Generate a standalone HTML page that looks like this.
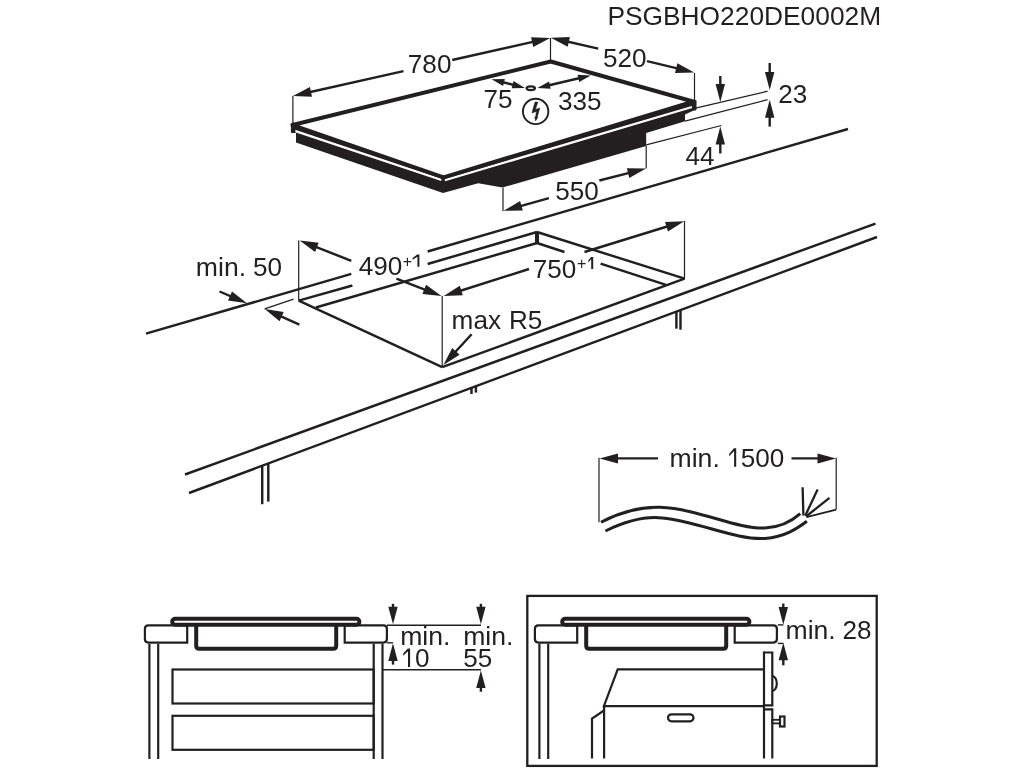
<!DOCTYPE html>
<html><head><meta charset="utf-8"><style>
html,body{margin:0;padding:0;background:#fff;}
svg{display:block;will-change:transform;}
text{font-family:"Liberation Sans",sans-serif;fill:#231f20;stroke:none;}
</style></head><body>
<svg width="1024" height="768" viewBox="0 0 1024 768" stroke="#231f20" fill="none" stroke-linecap="butt">
<rect width="1024" height="768" fill="#fff" stroke="none"/>
<polygon points="291.5,123 443.2,176 694.5,100 696.3,109.3 685,114.4 685,121.2 646.2,133 646.2,146 502.5,187.5 478.2,183.2 443,193 296,142.5 296,133 291.5,133" stroke-width="0" fill="#231f20"/>
<polyline points="294,130.6 443.5,180.6 692,107.0" stroke="#fff" stroke-width="2.2" fill="none"/>
<polygon points="292.5,125 550.7,61.5 693,101.5 443.5,177.3" stroke-width="3.9" fill="#fff" stroke-linejoin="round"/>
<rect x="290.9" y="122.8" width="4.5" height="10.2" rx="1.5" fill="#231f20" stroke="none"/>
<rect x="692.2" y="99.8" width="4.3" height="10.6" rx="1.5" fill="#231f20" stroke="none"/>
<rect x="441.3" y="176" width="3.6" height="10" fill="#231f20" stroke="none"/>
<line x1="292.9" y1="95.9" x2="292.9" y2="123" stroke-width="1.2"/>
<line x1="550.5" y1="38" x2="550.5" y2="61" stroke-width="1.2"/>
<line x1="694.5" y1="73" x2="694.5" y2="100" stroke-width="1.2"/>
<line x1="403.5" y1="71.2" x2="303.73" y2="93.48" stroke-width="2.4"/>
<polygon points="292.9,95.9 309.9,87.0 312.0,96.7" fill="#231f20" stroke="none"/>
<line x1="452.2" y1="60" x2="539.37" y2="40.43" stroke-width="2.4"/>
<polygon points="550.2,38.0 533.2,46.9 531.1,37.2" fill="#231f20" stroke="none"/>
<text transform="translate(407.86,73.4) scale(1,1.0)" font-size="26.1">780</text>
<line x1="598.2" y1="48.7" x2="561.62" y2="40.29" stroke-width="2.4"/>
<polygon points="550.8,37.8 569.9,37.1 567.7,46.8" fill="#231f20" stroke="none"/>
<line x1="647" y1="61.2" x2="683.41" y2="69.92" stroke-width="2.4"/>
<polygon points="694.2,72.5 675.0,73.1 677.4,63.3" fill="#231f20" stroke="none"/>
<text transform="translate(603.09,67.15) scale(1,1.0)" font-size="26.1">520</text>
<line x1="508" y1="83.5" x2="499.04" y2="81.21" stroke-width="2.4"/>
<polygon points="491.6,79.3 504.9,78.9 503.1,86.1" fill="#231f20" stroke="none"/>
<line x1="508" y1="83.5" x2="517.56" y2="85.98" stroke-width="2.4"/>
<polygon points="525.0,87.9 511.7,88.3 513.5,81.1" fill="#231f20" stroke="none"/>
<line x1="563" y1="82" x2="544.88" y2="86.25" stroke-width="2.4"/>
<polygon points="537.4,88.0 549.0,81.5 550.7,88.7" fill="#231f20" stroke="none"/>
<line x1="563" y1="82" x2="583.32" y2="77.25" stroke-width="2.4"/>
<polygon points="590.8,75.5 579.2,82.0 577.5,74.8" fill="#231f20" stroke="none"/>
<ellipse cx="530.8" cy="88.2" rx="4.1" ry="1.9" stroke-width="2.3" fill="none"/>
<text transform="translate(483.48,107.88) scale(1,1.0)" font-size="26.1">75</text>
<text transform="translate(557.9,109.9) scale(1,1.0)" font-size="26.1">335</text>
<circle cx="535.65" cy="111.45" r="12.7" stroke-width="1.9" fill="none"/>
<polygon points="535,102.1 537.9,102.1 535.4,109.4 539.8,108 537.4,116.7 538,117.1 535.6,120.9 534.7,117.1 535.6,116.8 536.4,111.4 531.9,112.9" fill="#231f20" stroke="#231f20" stroke-width="0.5" stroke-linejoin="round"/>
<line x1="694.5" y1="108.3" x2="767.6" y2="91.2" stroke-width="1.2"/>
<line x1="685" y1="121.2" x2="767.6" y2="99.7" stroke-width="1.2"/>
<line x1="720.3" y1="76" x2="720.3" y2="91.2" stroke-width="2.4"/>
<polygon points="720.3,102.0 715.6,84.0 725.0,84.0" fill="#231f20" stroke="none"/>
<line x1="769.7" y1="63" x2="769.7" y2="79.2" stroke-width="2.4"/>
<polygon points="769.7,90.0 765.0,72.0 774.4,72.0" fill="#231f20" stroke="none"/>
<line x1="769.7" y1="126.6" x2="769.7" y2="110.5" stroke-width="2.4"/>
<polygon points="769.7,99.7 774.4,117.7 765.0,117.7" fill="#231f20" stroke="none"/>
<text transform="translate(778.28,103.45) scale(1,1.0)" font-size="26.1">23</text>
<line x1="646.2" y1="144.9" x2="721.4" y2="125.5" stroke-width="1.2"/>
<line x1="720.3" y1="153.5" x2="720.3" y2="137.4" stroke-width="2.4"/>
<polygon points="720.3,126.6 725.0,144.6 715.6,144.6" fill="#231f20" stroke="none"/>
<text transform="translate(685.49,165.2) scale(1,1.0)" font-size="26.1">44</text>
<line x1="503" y1="187.7" x2="503" y2="211" stroke-width="1.2"/>
<line x1="646.2" y1="146" x2="646.2" y2="168.5" stroke-width="1.2"/>
<line x1="548.9" y1="198.1" x2="514.29" y2="207.8" stroke-width="2.4"/>
<polygon points="503.6,210.8 520.1,201.0 522.8,210.6" fill="#231f20" stroke="none"/>
<line x1="599.3" y1="180.5" x2="635.24" y2="171.34" stroke-width="2.4"/>
<polygon points="646.0,168.6 629.3,178.0 626.8,168.3" fill="#231f20" stroke="none"/>
<text transform="translate(555.34,199.53) scale(1,1.0)" font-size="26.1">550</text>
<text transform="translate(607.44,24.56) scale(1,1.0)" font-size="26.34">PSGBHO220DE0002M</text>
<line x1="146" y1="333.6" x2="351.3" y2="273.9" stroke-width="2.45"/>
<line x1="427.6" y1="251.5" x2="848" y2="129" stroke-width="2.45"/>
<line x1="298.7" y1="300.6" x2="352.4" y2="285.5" stroke-width="2.45"/>
<line x1="427.6" y1="264" x2="537" y2="232" stroke-width="2.45"/>
<line x1="315.9" y1="307.5" x2="537" y2="243" stroke-width="2.45"/>
<line x1="537" y1="232" x2="684.6" y2="278.7" stroke-width="2.45"/>
<line x1="537" y1="243" x2="564.5" y2="252" stroke-width="2.45"/>
<line x1="600.6" y1="263.7" x2="666" y2="284.9" stroke-width="2.45"/>
<line x1="537" y1="232" x2="537" y2="243" stroke-width="4"/>
<line x1="298.7" y1="300.6" x2="442.2" y2="367.2" stroke-width="2.45"/>
<line x1="442.2" y1="367.2" x2="684.6" y2="278.7" stroke-width="2.45"/>
<line x1="185" y1="474.5" x2="875.5" y2="223.6" stroke-width="2.45"/>
<line x1="189" y1="493" x2="877" y2="237" stroke-width="2.45"/>
<line x1="298.7" y1="240.4" x2="298.7" y2="300.6" stroke-width="1.2"/>
<line x1="442.2" y1="296" x2="442.2" y2="367.2" stroke-width="1.2"/>
<line x1="684.5" y1="221" x2="684.5" y2="278.7" stroke-width="1.2"/>
<line x1="351.3" y1="260.8" x2="310.04" y2="244.65" stroke-width="2.4"/>
<polygon points="299.7,240.6 318.7,242.7 315.1,252.0" fill="#231f20" stroke="none"/>
<line x1="396.4" y1="278.6" x2="431.15" y2="292.08" stroke-width="2.4"/>
<polygon points="441.5,296.1 422.4,294.1 426.1,284.7" fill="#231f20" stroke="none"/>
<text transform="translate(358.74,274.95) scale(1,1.0)" font-size="26.1">490</text>
<text transform="translate(402.7,266.5) scale(1,1.0)" font-size="16">+</text>
<polygon points="419.4,254.6 419.4,266.75 417.4,266.75 417.4,256.85 412.6,259.8 412.6,258.0 417.2,254.6" fill="#231f20" stroke="none"/>
<line x1="529" y1="269" x2="454.28" y2="292.74" stroke-width="2.4"/>
<polygon points="443.7,296.1 459.8,285.7 462.8,295.3" fill="#231f20" stroke="none"/>
<line x1="584.5" y1="252" x2="673.59" y2="224.48" stroke-width="2.4"/>
<polygon points="684.2,221.2 668.0,231.4 665.0,221.9" fill="#231f20" stroke="none"/>
<text transform="translate(532.66,277.75) scale(1,1.0)" font-size="26.1">750</text>
<text transform="translate(577,268.8) scale(1,1.0)" font-size="16">+</text>
<polygon points="593.2,257.1 593.2,269.1 591.2,269.1 591.2,259.35 588.3,262.40000000000003 588.3,260.6 591.0,257.1" fill="#231f20" stroke="none"/>
<text transform="translate(195.85,275.57) scale(1,0.95)" font-size="26.6">min.</text>
<text transform="translate(252.89,275.7) scale(1,1.0)" font-size="26.1">50</text>
<line x1="219.5" y1="291.5" x2="236.8" y2="298.92" stroke-width="2.4"/>
<polygon points="247.0,303.3 228.0,300.6 232.0,291.4" fill="#231f20" stroke="none"/>
<line x1="299.4" y1="324.7" x2="274.91" y2="313.59" stroke-width="2.4"/>
<polygon points="264.8,309.0 283.7,312.1 279.6,321.2" fill="#231f20" stroke="none"/>
<line x1="264.6" y1="308.9" x2="293.6" y2="299.1" stroke-width="1.2"/>
<line x1="471.6" y1="334.2" x2="450.9" y2="356.81" stroke-width="2.4"/>
<polygon points="443.4,365.0 452.2,348.0 459.6,354.7" fill="#231f20" stroke="none"/>
<text transform="translate(451.61,328.6) scale(1,0.98)" font-size="26.2">max</text>
<text transform="translate(508.96,328.57) scale(1,1.0)" font-size="26.1">R5</text>
<line x1="262.2" y1="465.5" x2="262.2" y2="504.2" stroke-width="2.45"/>
<line x1="268.3" y1="463.5" x2="268.3" y2="501.6" stroke-width="2.45"/>
<line x1="471.5" y1="387.5" x2="471.5" y2="394" stroke-width="2.45"/>
<line x1="475.9" y1="385.5" x2="475.9" y2="392.6" stroke-width="2.45"/>
<line x1="676.4" y1="311.5" x2="676.4" y2="328.7" stroke-width="2.45"/>
<line x1="680.5" y1="310" x2="680.5" y2="329.7" stroke-width="2.45"/>
<line x1="599" y1="457.8" x2="599" y2="522.3" stroke-width="1.2"/>
<line x1="836.2" y1="457.8" x2="836.2" y2="509.6" stroke-width="1.2"/>
<line x1="658" y1="458.4" x2="610.6" y2="458.4" stroke-width="2.4"/>
<polygon points="599.5,458.4 618.0,453.4 618.0,463.4" fill="#231f20" stroke="none"/>
<line x1="791.5" y1="458.4" x2="824.9" y2="458.4" stroke-width="2.4"/>
<polygon points="836.0,458.4 817.5,463.4 817.5,453.4" fill="#231f20" stroke="none"/>
<text transform="translate(669.55,467.2) scale(1,0.95)" font-size="26.6">min.</text>
<polygon points="736.2,448.2 736.2,466.8 734.1,466.8 734.1,450.95 729.1,456.2 729.1,454.0 733.9,448.2" fill="#231f20" stroke="none"/>
<text transform="translate(740.79,467.1) scale(1,1.0)" font-size="26.1">500</text>
<path d="M601,522.3 C622,511 642,507 660,507.3 C700,509 735,529 765,528 C780,527.5 792,521 800.3,513.7" stroke-width="3" fill="none" />
<path d="M605.4,531 C628,520 645,516 662.5,518 C700,522 735,540 765,538.4 C785,537 798,528 806.9,521.3" stroke-width="3" fill="none" />
<line x1="802.6" y1="487.3" x2="803.4" y2="515.5" stroke-width="2.3"/>
<line x1="817.6" y1="489.5" x2="805.2" y2="515.8" stroke-width="2.3"/>
<line x1="829.5" y1="497.8" x2="806" y2="516.5" stroke-width="2.3"/>
<line x1="836.2" y1="509.6" x2="806.5" y2="517.2" stroke-width="1.9"/>
<path d="M148.4,625.4 L187.2,625.4 Q187.2,625.4 187.2,625.4 L187.2,642.6 Q187.2,642.6 187.2,642.6 L148.4,642.6 Q144.9,642.6 144.9,639.1 L144.9,628.9 Q144.9,625.4 148.4,625.4 Z" stroke-width="2.2" fill="none" />
<path d="M344.7,625.4 L383.4,625.4 Q386.9,625.4 386.9,628.9 L386.9,639.1 Q386.9,642.6 383.4,642.6 L344.7,642.6 Q344.7,642.6 344.7,642.6 L344.7,625.4 Q344.7,625.4 344.7,625.4 Z" stroke-width="2.2" fill="none" />
<path d="M196.2,624 L196.2,645.7 Q196.2,648.7 199.2,648.7 L333.2,648.7 Q336.2,648.7 336.2,645.7 L336.2,624" stroke-width="4" fill="none" />
<path d="M175.2,618.7 L356.4,618.7 A3,3 0 0 1 356.4,624.7 L175.2,624.7 A3,3 0 0 1 175.2,618.7 Z" stroke-width="4" fill="none" />
<line x1="149.4" y1="643.7" x2="149.4" y2="759" stroke-width="2.2"/>
<line x1="158.2" y1="643.7" x2="158.2" y2="759" stroke-width="2.2"/>
<line x1="373.7" y1="643.7" x2="373.7" y2="759" stroke-width="2.2"/>
<line x1="382.5" y1="643.7" x2="382.5" y2="759" stroke-width="2.2"/>
<rect x="172.5" y="669.5" width="201.2" height="34" fill="none" stroke-width="2.2"/>
<rect x="172.5" y="715.8" width="201.2" height="34" fill="none" stroke-width="2.2"/>
<line x1="386.9" y1="625.3" x2="481" y2="625.3" stroke-width="1.4"/>
<line x1="386.9" y1="642.8" x2="393" y2="642.8" stroke-width="1.4"/>
<line x1="382.5" y1="669.7" x2="481" y2="669.7" stroke-width="1.4"/>
<line x1="393" y1="603.8" x2="393.0" y2="613.74" stroke-width="2.4"/>
<polygon points="393.0,624.3 388.3,606.7 397.7,606.7" fill="#231f20" stroke="none"/>
<line x1="480.9" y1="603.8" x2="480.9" y2="613.74" stroke-width="2.4"/>
<polygon points="480.9,624.3 476.2,606.7 485.6,606.7" fill="#231f20" stroke="none"/>
<line x1="393" y1="664.6" x2="393.0" y2="653.86" stroke-width="2.4"/>
<polygon points="393.0,643.3 397.7,660.9 388.3,660.9" fill="#231f20" stroke="none"/>
<line x1="480.9" y1="691.7" x2="480.9" y2="680.96" stroke-width="2.4"/>
<polygon points="480.9,670.4 485.6,688.0 476.2,688.0" fill="#231f20" stroke="none"/>
<text transform="translate(400.2,645.47) scale(1,0.95)" font-size="26.6">min.</text>
<polygon points="410.1,648.5 410.1,667.1 408,667.1 408,651.25 403.2,655.8000000000001 403.2,653.6 407.8,648.5" fill="#231f20" stroke="none"/>
<text transform="translate(414.9,667.2) scale(1,1.0)" font-size="26.1">0</text>
<text transform="translate(463.2,645.47) scale(1,0.95)" font-size="26.6">min.</text>
<text transform="translate(463.2,666.92) scale(1,1.0)" font-size="26.1">55</text>
<rect x="527.3" y="595.9" width="349.4" height="170" fill="none" stroke-width="2.3"/>
<path d="M538.4,625.4 L577.2,625.4 Q577.2,625.4 577.2,625.4 L577.2,642.6 Q577.2,642.6 577.2,642.6 L538.4,642.6 Q534.9,642.6 534.9,639.1 L534.9,628.9 Q534.9,625.4 538.4,625.4 Z" stroke-width="2.2" fill="none" />
<path d="M734.7,625.4 L773.4,625.4 Q776.9,625.4 776.9,628.9 L776.9,639.1 Q776.9,642.6 773.4,642.6 L734.7,642.6 Q734.7,642.6 734.7,642.6 L734.7,625.4 Q734.7,625.4 734.7,625.4 Z" stroke-width="2.2" fill="none" />
<path d="M586.2,624 L586.2,645.7 Q586.2,648.7 589.2,648.7 L723.2,648.7 Q726.2,648.7 726.2,645.7 L726.2,624" stroke-width="4" fill="none" />
<path d="M565.2,618.7 L746.4,618.7 A3,3 0 0 1 746.4,624.7 L565.2,624.7 A3,3 0 0 1 565.2,618.7 Z" stroke-width="4" fill="none" />
<line x1="539.4" y1="643.7" x2="539.4" y2="759" stroke-width="2.2"/>
<line x1="548.2" y1="643.7" x2="548.2" y2="759" stroke-width="2.2"/>
<polyline points="763.9,669.4 617.7,669.4 603.9,706.1 763.9,706.1" stroke-width="2.2" fill="none"/>
<line x1="604.1" y1="706.1" x2="604.1" y2="758.5" stroke-width="2.2"/>
<polyline points="592,758.5 592,718.7 604,710.5" stroke-width="2.2" fill="none"/>
<rect x="668" y="714.3" width="25.5" height="7" rx="3.5" fill="none" stroke-width="2.2"/>
<line x1="764" y1="651.4" x2="764" y2="758.5" stroke-width="2.2"/>
<polyline points="764,652.5 772.3,652.5 772.3,705.3 764,705.3" stroke-width="2.2" fill="none"/>
<polyline points="764,709.4 772.3,709.4 772.3,758.5" stroke-width="2.2" fill="none"/>
<path d="M772.3,676 A4.5,7.5 0 0 1 772.3,691" stroke-width="2.2" fill="none" />
<rect x="772.3" y="719.8" width="7.7" height="3.6" fill="none" stroke-width="1.8"/>
<rect x="780" y="716.5" width="4.5" height="10" fill="none" stroke-width="2.2"/>
<line x1="777.8" y1="624.9" x2="783.3" y2="624.9" stroke-width="1.4"/>
<line x1="777.8" y1="643.4" x2="783.3" y2="643.4" stroke-width="1.4"/>
<line x1="783.3" y1="603.6" x2="783.3" y2="614.14" stroke-width="2.4"/>
<polygon points="783.3,624.7 778.6,607.1 788.0,607.1" fill="#231f20" stroke="none"/>
<line x1="783.3" y1="665.3" x2="783.3" y2="653.26" stroke-width="2.4"/>
<polygon points="783.3,642.7 788.0,660.3 778.6,660.3" fill="#231f20" stroke="none"/>
<text transform="translate(785.5,639.47) scale(1,0.95)" font-size="26.6">min.</text>
<text transform="translate(842.52,639.35) scale(1,1.0)" font-size="26.1">28</text>
</svg></body></html>
